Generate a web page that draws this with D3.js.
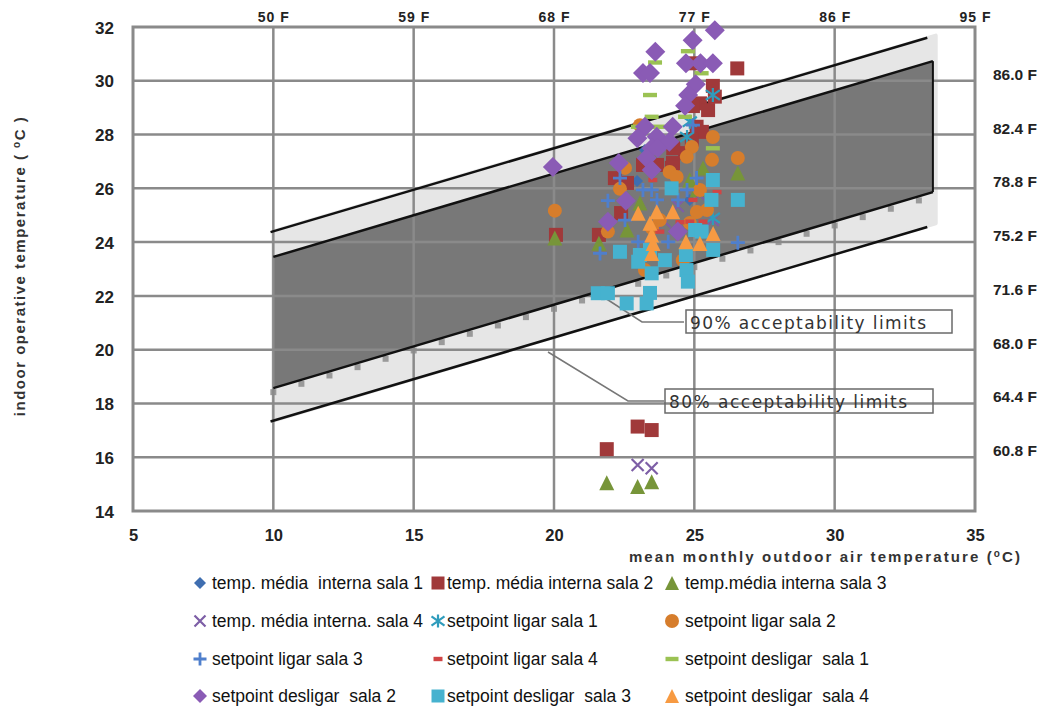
<!DOCTYPE html>
<html>
<head>
<meta charset="utf-8">
<script src="https://cdn.jsdelivr.net/npm/d3@7"></script>
<style>
  body { margin: 0; background: #fff; }
  text { font-family: "Liberation Sans", Arial, sans-serif; }
</style>
</head>
<body>
<div id="chart"></div>
<script>
// axis ticks and labels
var xTicks = [5, 10, 15, 20, 25, 30, 35];
var yTicks = [14, 16, 18, 20, 22, 24, 26, 28, 30, 32];
var topTicks = [10, 15, 20, 25, 30, 35];
var topLabels = ["50 F", "59 F", "68 F", "77 F", "86 F", "95 F"];
var rightTicks = [16, 18, 20, 22, 24, 26, 28, 30];
var rightLabels = ["60.8 F", "64.4 F", "68.0 F", "71.6 F", "75.2 F", "78.8 F", "82.4 F", "86.0 F"];

// acceptability limits
var lim80Upper = [[9.9, 24.37], [33.3, 31.6]];
var lim80Lower = [[9.9, 17.33], [33.3, 24.56]];
var lim90Upper = [[10, 23.45], [33.5, 30.73]];
var lim90Lower = [[10, 18.57], [33.5, 25.86]];
var lightBand = [[10, 24.4], [33.6, 31.68], [33.6, 24.7], [10, 17.36]];
var limitDotX = [10, 11, 12, 13, 14, 15, 16, 17, 18, 19, 20, 21, 22, 23, 24, 25, 26, 27, 28, 29, 30, 31, 32, 33];
var limitDotY = [18.42, 18.73, 19.04, 19.35, 19.66, 19.97, 20.28, 20.59, 20.90, 21.21, 21.52, 21.83,
                 22.14, 22.45, 22.76, 23.07, 23.38, 23.69, 24.00, 24.31, 24.62, 24.93, 25.24, 25.55];

// series
var seriesNames = ["temp. média  interna sala 1", "temp. média interna sala 2", "temp.média interna sala 3",
  "temp. média interna. sala 4", "setpoint ligar sala 1", "setpoint ligar sala 2",
  "setpoint ligar sala 3", "setpoint ligar sala 4", "setpoint desligar  sala 1",
  "setpoint desligar  sala 2", "setpoint desligar  sala 3", "setpoint desligar  sala 4"];

var tempSala1 = [[22.96, 26.27], [23.24, 27.43], [24.84, 25.57], [25.3, 28.1]];
var tempSala2 = [[24.96, 30.65], [25.66, 29.81], [25.73, 29.41], [25.20, 29.16], [25.49, 28.91], [24.95, 29.06],
  [25.08, 28.29], [25.27, 28.10], [24.91, 27.80], [24.67, 27.31], [24.25, 27.49], [24.24, 26.94],
  [23.17, 26.87], [23.67, 26.87], [22.17, 26.38], [22.60, 26.20], [24.20, 26.76], [22.39, 25.08],
  [21.60, 24.27], [20.07, 24.27], [21.88, 16.30], [22.98, 17.14], [23.48, 17.01], [26.53, 30.46]];
var tempSala3 = [[26.55, 26.57], [20.03, 24.15], [21.60, 23.96], [22.60, 24.45], [23.06, 25.45],
  [25.09, 25.94], [25.31, 26.76], [24.84, 26.31], [21.88, 15.05], [22.98, 14.91], [23.48, 15.09]];
var tempSala4 = [[22.98, 15.71], [23.48, 15.59], [23.95, 24.76], [24.41, 25.34], [25.66, 24.82], [25.2, 25.75]];
var ligarSala1 = [[25.66, 29.47], [24.84, 28.48], [24.74, 27.91], [25.66, 24.9]];
var ligarSala2 = [[25.66, 27.91], [24.91, 27.54], [26.55, 27.13], [24.73, 27.17], [25.63, 27.06], [23.06, 28.35],
  [22.53, 26.76], [24.12, 26.61], [24.37, 26.42], [22.35, 25.98], [20.03, 25.17], [21.92, 24.39],
  [25.09, 25.12], [25.45, 25.19], [23.77, 24.82], [24.84, 24.71], [23.24, 22.96], [24.59, 23.33],
  [23.49, 24.52], [25.2, 25.94]];
var ligarSala3 = [[22.35, 26.38], [23.17, 25.94], [23.48, 25.94], [21.92, 25.54], [22.53, 24.82], [21.64, 23.58],
  [23.00, 24.01], [24.07, 24.01], [24.42, 25.57], [24.74, 25.94], [25.08, 26.38], [26.55, 23.98],
  [23.67, 25.57], [24.95, 28.35]];
var ligarSala4 = [[23.52, 26.31], [24.95, 25.57], [25.81, 25.86], [24.84, 24.76], [25.31, 24.76], [23.77, 24.39], [24.49, 24.74]];
var desligarSala1 = [[24.77, 31.10], [23.60, 30.68], [25.26, 30.28], [23.42, 29.47], [23.48, 28.66], [24.67, 28.66],
  [22.99, 28.29], [23.70, 28.29], [25.66, 27.49]];
var desligarSala2 = [[25.73, 31.88], [24.94, 31.51], [23.61, 31.08], [23.17, 30.29], [23.42, 30.29], [24.70, 30.65],
  [25.22, 30.65], [25.66, 30.65], [25.05, 29.87], [24.78, 29.47], [24.67, 29.07], [23.24, 28.29],
  [24.23, 28.29], [22.97, 27.86], [23.66, 27.92], [24.11, 27.73], [23.48, 27.49], [23.70, 27.50],
  [23.30, 27.13], [22.31, 26.94], [19.96, 26.79], [23.48, 26.68], [22.56, 25.54], [21.92, 24.76], [24.41, 24.39]];
var desligarSala3 = [[25.66, 26.31], [26.55, 25.57], [24.19, 26.00], [25.61, 25.57], [22.35, 23.64], [23.00, 23.27],
  [23.42, 23.71], [23.48, 22.84], [23.95, 23.33], [24.72, 22.96], [24.77, 22.53], [25.03, 24.45],
  [25.26, 24.39], [25.67, 23.71], [21.56, 22.10], [21.92, 22.10], [22.59, 21.72], [23.30, 21.72],
  [23.42, 22.11], [23.06, 23.52], [24.7, 23.52]];
var desligarSala4 = [[23.0, 25.07], [23.66, 25.13], [24.23, 25.13], [23.42, 24.70], [23.48, 24.26], [23.53, 23.95],
  [23.48, 23.58], [24.70, 24.01], [25.2, 23.95], [25.67, 24.32]];

var seriesData = [tempSala1, tempSala2, tempSala3, tempSala4, ligarSala1, ligarSala2,
  ligarSala3, ligarSala4, desligarSala1, desligarSala2, desligarSala3, desligarSala4];

// marker styles, same order as the series
var markers = [
  {shape: "diamond", color: "#3f6eb0", size: 6},
  {shape: "square", color: "#a0393a", size: 14},
  {shape: "triangle", color: "#779539", size: 15},
  {shape: "cross", color: "#7d5ea6", size: 12},
  {shape: "star", color: "#2f9cbc", size: 14},
  {shape: "circle", color: "#d67d2c", size: 14},
  {shape: "plus", color: "#4f7fcc", size: 14},
  {shape: "dash", color: "#d04545", size: 9},
  {shape: "dash", color: "#9bc253", size: 14},
  {shape: "diamond", color: "#8a5bb5", size: 10},
  {shape: "square", color: "#46b2cf", size: 14},
  {shape: "triangle", color: "#f79a42", size: 15}
];

var width = 1049, height = 708;
var x = d3.scaleLinear().domain([5, 35]).range([133, 975]);
var y = d3.scaleLinear().domain([14, 32]).range([511, 27]);

var svg = d3.select("#chart").append("svg")
  .attr("width", width).attr("height", height);

var line = d3.line().x(function(d) { return x(d[0]); }).y(function(d) { return y(d[1]); });

// bands
svg.append("path")
  .attr("d", line(lightBand) + "Z")
  .attr("fill", "#e6e6e6")
  .attr("stroke", "#e6e6e6").attr("stroke-width", 4).attr("stroke-linejoin", "round");

var darkBand = lim90Upper.concat(lim90Lower.slice().reverse());
svg.append("path")
  .attr("d", line(darkBand) + "Z")
  .attr("fill", "#787878");

// gray squares along the lower 90% limit
svg.append("g").selectAll("rect")
  .data(limitDotX)
  .enter().append("rect")
  .attr("x", function(d) { return x(d) - 3; })
  .attr("y", function(d, i) { return y(limitDotY[i]) - 3; })
  .attr("width", 6).attr("height", 6)
  .attr("fill", "#9a9a9a");

// grid
var grid = svg.append("g").attr("stroke", "#8a8a8a").attr("stroke-width", 2.5);
grid.selectAll(".vg").data(xTicks.slice(1, -1)).enter().append("line")
  .attr("x1", function(d) { return x(d); }).attr("x2", function(d) { return x(d); })
  .attr("y1", y(32)).attr("y2", y(14));
grid.selectAll(".hg").data(yTicks.slice(1, -1)).enter().append("line")
  .attr("y1", function(d) { return y(d); }).attr("y2", function(d) { return y(d); })
  .attr("x1", x(5)).attr("x2", x(35));
svg.append("rect")
  .attr("x", x(5)).attr("y", y(32))
  .attr("width", x(35) - x(5)).attr("height", y(14) - y(32))
  .attr("fill", "none").attr("stroke", "#8a8a8a").attr("stroke-width", 3);

// limit lines
[lim80Upper, lim80Lower, lim90Upper, lim90Lower].forEach(function(l) {
  svg.append("path").attr("d", line(l))
    .attr("fill", "none").attr("stroke", "#111").attr("stroke-width", 2.5);
});
svg.append("path")
  .attr("d", line([lim90Upper[1], lim90Lower[1]]))
  .attr("stroke", "#111").attr("stroke-width", 2);

// axes labels
var axisFont = "bold 17px 'Liberation Sans', Arial, sans-serif";
var xAxis = svg.append("g").attr("transform", "translate(0," + y(14) + ")")
  .call(d3.axisBottom(x).tickValues(xTicks).tickSize(0).tickPadding(18).tickFormat(d3.format("d")));
var yAxis = svg.append("g").attr("transform", "translate(" + x(5) + ",0)")
  .call(d3.axisLeft(y).tickValues(yTicks).tickSize(0).tickPadding(19).tickFormat(d3.format("d")));
var topAxis = svg.append("g").attr("transform", "translate(0," + y(32) + ")")
  .call(d3.axisTop(x).tickValues(topTicks).tickSize(0).tickPadding(5)
    .tickFormat(function(d, i) { return topLabels[i]; }));
var rightAxis = svg.append("g").attr("transform", "translate(" + x(35) + ",0)")
  .call(d3.axisRight(y).tickValues(rightTicks).tickSize(0).tickPadding(18)
    .tickFormat(function(d, i) { return rightLabels[i]; }));

[xAxis, yAxis, topAxis, rightAxis].forEach(function(a) {
  a.select(".domain").remove();
  a.selectAll("text").style("font", axisFont).attr("fill", "#222");
});
xAxis.selectAll("text").style("font-size", "16.5px");
topAxis.selectAll("text").style("font-size", "14px").style("letter-spacing", "1px");
rightAxis.selectAll("text").style("font-size", "15.5px").attr("dy", "-0.1em");
yAxis.selectAll("text").attr("dy", "0.36em");

// axis titles
var xt = svg.append("text")
  .attr("x", 1022).attr("y", 562)
  .attr("text-anchor", "end")
  .style("font", "bold 15px 'Liberation Sans', Arial, sans-serif")
  .style("letter-spacing", "2.1px")
  .attr("fill", "#333");
xt.append("tspan").text("mean monthly outdoor air temperature (");
xt.append("tspan").attr("baseline-shift", "super").style("font-size", "10px").text("o");
xt.append("tspan").text("C)");

var yt = svg.append("text")
  .attr("transform", "translate(25,266) rotate(-90)")
  .attr("text-anchor", "middle")
  .style("font", "bold 15px 'Liberation Sans', Arial, sans-serif")
  .style("letter-spacing", "1.5px")
  .attr("fill", "#333");
yt.append("tspan").text("indoor operative temperature ( ");
yt.append("tspan").attr("baseline-shift", "super").style("font-size", "10px").text("o");
yt.append("tspan").text("C )");

// annotation boxes and leader lines
function annot(pts, box, label) {
  svg.append("path").attr("d", d3.line()(pts))
    .attr("fill", "none").attr("stroke", "#777").attr("stroke-width", 1.5);
  svg.append("rect").attr("x", box[0]).attr("y", box[1]).attr("width", box[2]).attr("height", box[3])
    .attr("fill", "none").attr("stroke", "#6a6a6a").attr("stroke-width", 1.5);
  svg.append("text").attr("x", box[0] + 4).attr("y", box[1] + 19)
    .attr("textLength", box[2] - 30).attr("lengthAdjust", "spacing")
    .style("font", "17px 'DejaVu Sans', sans-serif").attr("fill", "#333")
    .text(label);
}
annot([[605, 298], [642, 322], [684, 322]], [686, 310, 266, 23], "90% acceptability limits");
annot([[548, 352], [628, 401], [664, 401]], [665, 389, 268, 24], "80% acceptability limits");

// markers
function markerPath(shape, s) {
  var r = s / 2;
  switch (shape) {
    case "diamond": return "M0," + (-s) + "L" + s + ",0L0," + s + "L" + (-s) + ",0Z";
    case "square": return "M" + (-r) + "," + (-r) + "h" + s + "v" + s + "h" + (-s) + "Z";
    case "triangle": return "M0," + (-r) + "L" + r + "," + r + "L" + (-r) + "," + r + "Z";
    case "circle": return d3.symbol().type(d3.symbolCircle).size(Math.PI * r * r)();
    case "dash": return "M" + (-r) + ",-2.2h" + s + "v4.4h" + (-s) + "Z";
    case "cross": return "M" + (-r) + "," + (-r) + "L" + r + "," + r + "M" + r + "," + (-r) + "L" + (-r) + "," + r;
    case "plus": return "M" + (-r) + ",0H" + r + "M0," + (-r) + "V" + r;
    case "star": return "M" + (-r) + "," + (-r * 0.7) + "L" + r + "," + (r * 0.7) + "M" + r + "," + (-r * 0.7) +
      "L" + (-r) + "," + (r * 0.7) + "M0," + (-r) + "V" + r;
  }
}
function styleMarker(sel, m) {
  var stroked = m.shape === "cross" || m.shape === "plus" || m.shape === "star";
  sel.attr("d", markerPath(m.shape, m.size))
    .attr("fill", stroked ? "none" : m.color)
    .attr("stroke", stroked ? m.color : "none")
    .attr("stroke-width", m.shape === "plus" ? 2.8 : 2.2);
}

seriesData.forEach(function(data, i) {
  var m = markers[i];
  svg.append("g").selectAll("path")
    .data(data)
    .enter().append("path")
    .attr("transform", function(d) { return "translate(" + x(d[0]) + "," + y(d[1]) + ")"; })
    .call(styleMarker, m);
});

// legend
var legendX = [200, 438, 672];
var legendY = [583, 621, 659, 696];
var legendMarkers = [
  {shape: "diamond", size: 6}, {shape: "square", size: 13}, {shape: "triangle", size: 14},
  {shape: "cross", size: 11}, {shape: "star", size: 13}, {shape: "circle", size: 14},
  {shape: "plus", size: 13}, {shape: "dash", size: 9}, {shape: "dash", size: 13},
  {shape: "diamond", size: 7}, {shape: "square", size: 13}, {shape: "triangle", size: 14}
];
var legend = svg.selectAll(".legend")
  .data(seriesNames)
  .enter().append("g")
  .attr("class", "legend")
  .attr("transform", function(d, i) {
    return "translate(" + legendX[i % 3] + "," + legendY[Math.floor(i / 3)] + ")";
  });
legend.append("path").each(function(d, i) {
  d3.select(this).call(styleMarker, {shape: legendMarkers[i].shape, size: legendMarkers[i].size, color: markers[i].color});
});
legend.append("text")
  .attr("x", function(d, i) { return i % 3 === 2 ? 13 : (i % 3 === 1 ? 9 : 12); })
  .attr("y", 6)
  .style("font", "17.5px 'Liberation Sans', Arial, sans-serif")
  .style("white-space", "pre")
  .attr("fill", "#111")
  .text(function(d) { return d; });
</script>
</body>
</html>
